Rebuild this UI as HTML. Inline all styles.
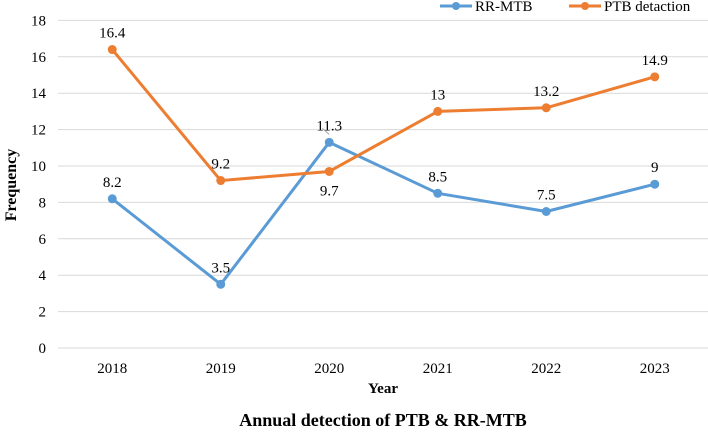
<!DOCTYPE html>
<html><head><meta charset="utf-8"><style>
body{margin:0;background:#fff}
svg text{font-family:"Liberation Serif",serif;fill:#000}
</style></head><body>
<svg id="chart" width="708" height="432"></svg>
<script>
const years=["2018","2019","2020","2021","2022","2023"];
const rrValues=[8.2,3.5,11.3,8.5,7.5,9];
const ptbValues=[16.4,9.2,9.7,13,13.2,14.9];
const yTicks=[0,2,4,6,8,10,12,14,16,18];
const ns="http://www.w3.org/2000/svg";
const svg=document.getElementById("chart");
const x0=58,step=108.5,y0=348,ppu=18.2;
const xs=i=>x0+step*(i+0.5);
const ys=v=>y0-v*ppu;
function mk(t,a,p){const e=document.createElementNS(ns,t);for(const k in a)e.setAttribute(k,a[k]);(p||svg).appendChild(e);return e;}
yTicks.forEach(t=>{
  const g=mk("line",{x1:x0,x2:x0+step*6,y1:ys(t),y2:ys(t),stroke:"#d9d9d9","stroke-width":1});
  
  
  const l=mk("text",{x:46,y:ys(t)+5,"text-anchor":"end","font-size":15});l.textContent=t;
  
  
});
years.forEach((y,i)=>{
  const l=mk("text",{x:xs(i),y:373,"text-anchor":"middle","font-size":15});l.textContent=y;
  
  
});
function series(vals,color,name,below){
  const pts=vals.map((v,i)=>xs(i)+","+ys(v)).join(" ");
  const pl=mk("polyline",{points:pts,fill:"none",stroke:color,"stroke-width":3,"stroke-linejoin":"round"});
  
  
  vals.forEach((v,i)=>{
    const c=mk("circle",{cx:xs(i),cy:ys(v),r:4.5,fill:color});
    
    
    const dy=below[i]?24:-12;
    const t=mk("text",{x:xs(i),y:ys(v)+dy,"text-anchor":"middle","font-size":15});t.textContent=v;
    
    
  });
}
series(rrValues,"#5b9bd5","rr-mtb",[0,0,0,0,0,0]);
series(ptbValues,"#ed7d31","ptb",[0,0,1,0,0,0]);
const ld=mk("line",{x1:xs(2),y1:ys(11.3)-8,x2:xs(2)-7,y2:ys(11.3)-14,stroke:"#a6a6a6","stroke-width":1});


</script>
<svg width="708" height="432" style="position:absolute;left:0;top:0">
<g>
<g>
<line x1="440" y1="6" x2="472" y2="6" stroke="#5b9bd5" stroke-width="3"/><circle cx="456" cy="6" r="4" fill="#5b9bd5"/>
<text x="475" y="11" font-size="15" font-family="Liberation Serif, serif">RR-MTB</text></g>
<g>
<line x1="569" y1="6" x2="601" y2="6" stroke="#ed7d31" stroke-width="3"/><circle cx="585" cy="6" r="4" fill="#ed7d31"/>
<text x="604" y="11" font-size="15" font-family="Liberation Serif, serif">PTB detaction</text></g>
</g>
<text transform="translate(16,185) rotate(-90)" text-anchor="middle" font-size="16" font-weight="bold" font-family="Liberation Serif, serif">Frequency</text>
<text x="383" y="393" text-anchor="middle" font-size="15" font-weight="bold" font-family="Liberation Serif, serif">Year</text>
<text x="383" y="426" text-anchor="middle" font-size="18" font-weight="bold" font-family="Liberation Serif, serif">Annual detection of PTB &amp; RR-MTB</text>
</svg>
</body></html>
